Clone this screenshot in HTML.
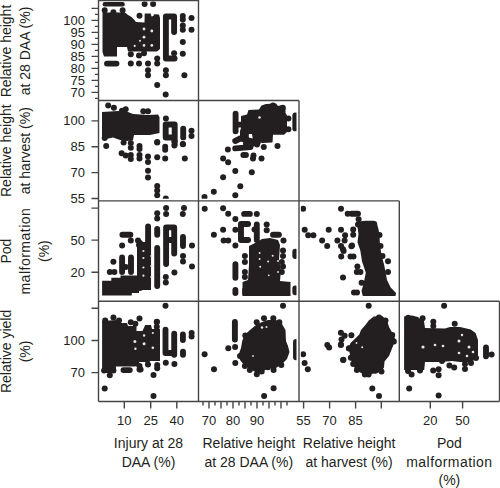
<!DOCTYPE html><html><head><meta charset="utf-8"><style>html,body{margin:0;padding:0;background:#fff;}svg{display:block}text{font-family:"Liberation Sans",sans-serif;fill:#231f20}</style></head><body>
<svg width="500" height="488" viewBox="0 0 500 488">
<defs>
<clipPath id="c11"><rect x="100.3" y="1.5" width="95.7" height="96.9"/></clipPath>
<clipPath id="c21"><rect x="100.3" y="101.5" width="95.7" height="97.3"/></clipPath>
<clipPath id="c22"><rect x="200.3" y="101.5" width="96.2" height="97.3"/></clipPath>
<clipPath id="c31"><rect x="100.3" y="201.9" width="95.7" height="97.3"/></clipPath>
<clipPath id="c32"><rect x="200.3" y="201.9" width="96.2" height="97.3"/></clipPath>
<clipPath id="c33"><rect x="300.8" y="201.9" width="96.0" height="97.3"/></clipPath>
<clipPath id="c41"><rect x="100.3" y="302.3" width="95.7" height="97.1"/></clipPath>
<clipPath id="c42"><rect x="200.3" y="302.3" width="96.2" height="97.1"/></clipPath>
<clipPath id="c43"><rect x="300.8" y="302.3" width="96.0" height="97.1"/></clipPath>
<clipPath id="c44"><rect x="401.1" y="302.3" width="95.9" height="97.1"/></clipPath>
</defs>
<g clip-path="url(#c11)" fill="#231f20">
<polygon points="102.5,12.5 125,12.5 128,15 131.5,17 134,19.5 136,22 144.5,22.5 144.7,13.5 150.7,13.5 151.5,16.5 153.4,16 154,14.2 159,14.5 160,18 160,49 157,51.5 128,51.5 127,47 117,47 117,56.4 104,56.4 102.5,52"/>
<path d="M104.8 4.2L122.6 4.2" stroke="#231f20" stroke-width="4.4" stroke-linecap="round" fill="none"/>
<path d="M165.9 16.5L165.9 58.5 174.6 58.5M165.9 16.5L174.1 16.5 174.1 32M107 63.6L116.5 63.6" stroke="#231f20" stroke-width="5.9" stroke-linecap="round" stroke-linejoin="round" fill="none"/>
<circle cx="144.6" cy="4.1" r="3"/>
<circle cx="153.1" cy="4.1" r="3"/>
<circle cx="104.7" cy="10.2" r="3"/>
<circle cx="113.4" cy="12.3" r="3"/>
<circle cx="122.6" cy="10.2" r="3"/>
<circle cx="139.5" cy="15.8" r="3"/>
<circle cx="174.1" cy="53.3" r="3"/>
<circle cx="182.8" cy="16" r="3"/>
<circle cx="182.8" cy="19.5" r="3"/>
<circle cx="182.8" cy="25.5" r="3"/>
<circle cx="182.8" cy="29.7" r="3"/>
<circle cx="191.5" cy="17.9" r="3"/>
<circle cx="191.5" cy="29.7" r="3"/>
<circle cx="182.8" cy="42" r="3"/>
<circle cx="182.8" cy="53.8" r="3"/>
<circle cx="184.4" cy="75.3" r="3"/>
<circle cx="157.2" cy="58.4" r="3"/>
<circle cx="157.2" cy="63.6" r="3"/>
<circle cx="148" cy="63.6" r="3"/>
<circle cx="148" cy="70.2" r="3"/>
<circle cx="148" cy="75.3" r="3"/>
<circle cx="130.8" cy="63.6" r="3"/>
<circle cx="139" cy="63.6" r="3"/>
<circle cx="165.9" cy="70.2" r="3"/>
<circle cx="165.9" cy="75.3" r="3"/>
<circle cx="157.2" cy="85" r="3"/>
<circle cx="165.7" cy="94.6" r="3"/>
<circle cx="130.8" cy="54.3" r="3"/>
<circle cx="139" cy="55.4" r="3"/>
<circle cx="144" cy="53.3" r="3"/>
<circle cx="151.8" cy="31" r="1.4" fill="#e6e6e6"/>
<circle cx="151.8" cy="45.4" r="1.4" fill="#e6e6e6"/>
<circle cx="144" cy="29" r="1.4" fill="#e6e6e6"/>
<circle cx="144" cy="37.2" r="1.4" fill="#e6e6e6"/>
<circle cx="144" cy="45.4" r="1.3" fill="#e6e6e6"/>
<circle cx="134.7" cy="45.9" r="1.1" fill="#e6e6e6"/>
<circle cx="140" cy="40.7" r="1" fill="#e6e6e6"/>
</g>
<g clip-path="url(#c21)" fill="#231f20">
<polygon points="102,112 118,111 128,112 133,114 148,115 158,114.5 159.5,117 159.5,133 150,135 134,135 133,140 127,141 120,140 113,137.5 106,139 102,137"/>
<path d="M165.7 124.5L165.7 137.5 174.7 137.5M165.7 124.5L174.7 124.5 174.7 144M183.2 128.8L183.2 137.4" stroke="#231f20" stroke-width="5.9" stroke-linecap="round" stroke-linejoin="round" fill="none"/>
<circle cx="108.2" cy="105.6" r="3"/>
<circle cx="113.9" cy="107.7" r="3"/>
<circle cx="122" cy="110.8" r="3"/>
<circle cx="125.7" cy="109.2" r="3"/>
<circle cx="143.3" cy="111.3" r="3"/>
<circle cx="148" cy="111.3" r="3"/>
<circle cx="104.7" cy="137.9" r="3"/>
<circle cx="123.6" cy="142.6" r="3"/>
<circle cx="130.8" cy="143.1" r="3"/>
<circle cx="130.8" cy="147.7" r="3"/>
<circle cx="106.2" cy="146.1" r="3"/>
<circle cx="139.5" cy="146.1" r="3"/>
<circle cx="139.5" cy="149" r="3"/>
<circle cx="121.6" cy="153.3" r="3"/>
<circle cx="125.7" cy="155.4" r="3"/>
<circle cx="130.8" cy="154.9" r="3"/>
<circle cx="130.8" cy="159" r="3"/>
<circle cx="139.5" cy="154.9" r="3"/>
<circle cx="139.5" cy="158.4" r="3"/>
<circle cx="148" cy="156.6" r="3"/>
<circle cx="148" cy="162.1" r="3"/>
<circle cx="148" cy="170.7" r="3"/>
<circle cx="148" cy="177.5" r="3"/>
<circle cx="157.2" cy="157.2" r="3"/>
<circle cx="157.2" cy="142.5" r="3"/>
<circle cx="165.2" cy="146.8" r="3"/>
<circle cx="165.2" cy="149.8" r="3"/>
<circle cx="165.2" cy="158.4" r="3"/>
<circle cx="174.4" cy="145.5" r="3"/>
<circle cx="174.4" cy="141.2" r="3"/>
<circle cx="183" cy="144.3" r="3"/>
<circle cx="184.8" cy="158.4" r="3"/>
<circle cx="157.2" cy="186" r="3"/>
<circle cx="157.2" cy="190.4" r="3"/>
<circle cx="157.2" cy="195.3" r="3"/>
<circle cx="165.8" cy="198.5" r="3"/>
<circle cx="165.9" cy="118.4" r="3"/>
<circle cx="182.8" cy="144" r="3"/>
<circle cx="191.5" cy="130.7" r="3"/>
<circle cx="191.5" cy="135.9" r="3"/>
<circle cx="157.2" cy="142" r="3"/>
</g>
<g clip-path="url(#c22)" fill="#231f20">
<polygon points="241,116 247,114.5 248.5,110 259,109.5 261.5,105.5 266,104 276,103.5 278,106 282,105 285.5,108 285.5,113 287,115.5 287,132 284,134.8 273,134.8 272.5,142.5 262,143 258,141 253,140.5 252,134 248.8,134 248.8,138.5 240,138.5 240,131 241,128"/>
<path d="M235.6 113.8L235.6 131.3M235.6 124.6L243.3 124.6M295.3 115.4L295.3 128.4M235.2 141L240.2 138.5 257.8 142.6M235.2 148.4L250.4 147.1" stroke="#231f20" stroke-width="5.9" stroke-linecap="round" stroke-linejoin="round" fill="none"/>
<circle cx="282.8" cy="107.7" r="3"/>
<circle cx="288.4" cy="118.4" r="3"/>
<circle cx="288.4" cy="129.2" r="3"/>
<circle cx="273" cy="105.6" r="3"/>
<circle cx="227.9" cy="149.6" r="3"/>
<circle cx="243.4" cy="154.9" r="3"/>
<circle cx="245.9" cy="154.9" r="3"/>
<circle cx="253.5" cy="155.5" r="3"/>
<circle cx="253" cy="158.5" r="3"/>
<circle cx="246" cy="143.5" r="3"/>
<circle cx="252" cy="144" r="3"/>
<circle cx="257" cy="144.5" r="3"/>
<circle cx="261.5" cy="158.6" r="3"/>
<circle cx="263.8" cy="147" r="3"/>
<circle cx="277.5" cy="146.1" r="3"/>
<circle cx="223.1" cy="158.4" r="3"/>
<circle cx="228.1" cy="162.3" r="3"/>
<circle cx="235.3" cy="170.9" r="3"/>
<circle cx="251.8" cy="172.3" r="3"/>
<circle cx="223.1" cy="177.3" r="3"/>
<circle cx="240.3" cy="186.2" r="3"/>
<circle cx="213.8" cy="191.7" r="3"/>
<circle cx="235.3" cy="195.3" r="3"/>
<circle cx="204.5" cy="197" r="3"/>
<circle cx="259.5" cy="117.5" r="1.3" fill="#e6e6e6"/>
</g>
<g clip-path="url(#c31)" fill="#231f20">
<polygon points="102.1,280.7 111.3,280.7 111.3,277.7 120.5,277.7 120.5,275.6 139,275.6 139,293 131.8,293 131.8,295.6 102.1,295.6"/>
<polygon points="137,242 151,242 151,290 137,290"/>
<path d="M122.4 234.8L130.4 234.8M148.1 226.5L148.1 286M140 243L140 288M122.1 257.5L122.1 272M131 257.5L131 272M157.2 229L157.2 234.8M157.2 247.9L157.2 286M166.1 227.4L166.1 264M166.1 227.4L174.2 227.4 174.2 253.6M166.1 240L174.2 240M183 237L183 246" stroke="#231f20" stroke-width="5.9" stroke-linecap="round" stroke-linejoin="round" fill="none"/>
<circle cx="130.8" cy="240.5" r="3"/>
<circle cx="138" cy="240.5" r="3"/>
<circle cx="139" cy="245" r="3"/>
<circle cx="122.1" cy="245.6" r="3"/>
<circle cx="113.4" cy="261.8" r="3"/>
<circle cx="125.7" cy="266.9" r="3"/>
<circle cx="109.8" cy="272" r="3"/>
<circle cx="114.4" cy="272" r="3"/>
<circle cx="157.2" cy="213.3" r="3"/>
<circle cx="157.2" cy="218.6" r="3"/>
<circle cx="166.1" cy="208.1" r="3"/>
<circle cx="166.1" cy="213.9" r="3"/>
<circle cx="165.8" cy="276.9" r="3"/>
<circle cx="165.8" cy="282.4" r="3"/>
<circle cx="174.4" cy="272.6" r="3"/>
<circle cx="184" cy="208.1" r="3"/>
<circle cx="182.8" cy="213.9" r="3"/>
<circle cx="183" cy="256" r="3"/>
<circle cx="183" cy="261.5" r="3"/>
<circle cx="192" cy="245.5" r="3"/>
<circle cx="192" cy="266.5" r="3"/>
<circle cx="151.5" cy="256" r="1.2" fill="#e6e6e6"/>
<circle cx="151.5" cy="266" r="1.2" fill="#e6e6e6"/>
<circle cx="151.5" cy="277" r="1.2" fill="#e6e6e6"/>
<circle cx="143.4" cy="251" r="1.1" fill="#e6e6e6"/>
<circle cx="143.4" cy="258" r="1.1" fill="#e6e6e6"/>
<circle cx="143.4" cy="267.5" r="1.1" fill="#e6e6e6"/>
<circle cx="143.4" cy="275.7" r="1.1" fill="#e6e6e6"/>
</g>
<g clip-path="url(#c32)" fill="#231f20">
<polygon points="249,246 255,243 262,239 270,238 278,240 280,245 279,260 281,270 280,281 290.5,282 290.5,296 242.5,296 242.5,282 248,280 249,265"/>
<path d="M248.1 224L241 224 241 240 248.1 240M244.1 213.9L249.9 213.9M256.8 224.4L256.8 240M273 234.8L278.9 234.8M235.4 264.3L235.4 277.7M235.4 289.9L235.4 293.1M295.3 251.6L295.3 256M295.3 288.5L295.3 292.3" stroke="#231f20" stroke-width="5.9" stroke-linecap="round" stroke-linejoin="round" fill="none"/>
<circle cx="204.7" cy="208.7" r="3"/>
<circle cx="223.1" cy="208.2" r="3"/>
<circle cx="228.2" cy="213.8" r="3"/>
<circle cx="235.4" cy="219" r="3"/>
<circle cx="223.1" cy="229.7" r="3"/>
<circle cx="213.9" cy="234.8" r="3"/>
<circle cx="235.4" cy="229.7" r="3"/>
<circle cx="223.6" cy="240.5" r="3"/>
<circle cx="228.2" cy="240.5" r="3"/>
<circle cx="235.4" cy="245.6" r="3"/>
<circle cx="256.8" cy="213.9" r="3"/>
<circle cx="254.5" cy="229.6" r="3"/>
<circle cx="266.7" cy="224.4" r="3"/>
<circle cx="266.7" cy="230.2" r="3"/>
<circle cx="283.5" cy="240.6" r="3"/>
<circle cx="244.9" cy="256" r="3"/>
<circle cx="244.9" cy="262.1" r="3"/>
<circle cx="244.9" cy="272" r="3"/>
<circle cx="244.9" cy="276.9" r="3"/>
<circle cx="245.1" cy="289.9" r="3"/>
<circle cx="245.1" cy="293.1" r="3"/>
<circle cx="283" cy="250.4" r="3"/>
<circle cx="283" cy="256" r="3"/>
<circle cx="281.8" cy="262" r="3"/>
<circle cx="283" cy="266.4" r="3"/>
<circle cx="281.8" cy="272" r="3"/>
<circle cx="259.6" cy="253" r="1" fill="#e6e6e6"/>
<circle cx="259.6" cy="259" r="1" fill="#e6e6e6"/>
<circle cx="268.1" cy="261.6" r="1" fill="#e6e6e6"/>
<circle cx="272.7" cy="255.7" r="1" fill="#e6e6e6"/>
<circle cx="278" cy="261" r="1" fill="#e6e6e6"/>
<circle cx="260.2" cy="266.8" r="1" fill="#e6e6e6"/>
<circle cx="278" cy="272" r="0.9" fill="#e6e6e6"/>
<circle cx="268.8" cy="275.3" r="0.9" fill="#e6e6e6"/>
</g>
<g clip-path="url(#c33)" fill="#231f20">
<polygon points="358,222 362,221 366.8,220.8 374.1,220.8 377,224 378.7,230 379.5,236 380,245 381.5,255 384.3,265.4 387,280 390.7,287.5 396,293 395.5,296 362.8,296 361.5,291 363.5,284 365.8,272.7 364,267.2 362.1,261.7 360.3,250.6 357.5,242.3 358.5,234 357.5,227"/>
<path d="M351.5 213.8L358 213.8" stroke="#231f20" stroke-width="5.9" stroke-linecap="round" stroke-linejoin="round" fill="none"/>
<circle cx="379.5" cy="234.9" r="3"/>
<circle cx="380.5" cy="246" r="3"/>
<circle cx="382.5" cy="256" r="3"/>
<circle cx="303.1" cy="208.7" r="3"/>
<circle cx="341" cy="208.7" r="3"/>
<circle cx="347.7" cy="213.8" r="3"/>
<circle cx="304.7" cy="229.7" r="3"/>
<circle cx="308.2" cy="235.3" r="3"/>
<circle cx="313.4" cy="235.3" r="3"/>
<circle cx="328.7" cy="229.7" r="3"/>
<circle cx="341" cy="229.7" r="3"/>
<circle cx="322.1" cy="240.5" r="3"/>
<circle cx="327.2" cy="246.1" r="3"/>
<circle cx="337.4" cy="240.5" r="3"/>
<circle cx="345.1" cy="235.3" r="3"/>
<circle cx="344.6" cy="240.5" r="3"/>
<circle cx="341" cy="246.1" r="3"/>
<circle cx="343" cy="249.2" r="3"/>
<circle cx="358.6" cy="219.2" r="3"/>
<circle cx="358" cy="224.6" r="3"/>
<circle cx="367" cy="224" r="3"/>
<circle cx="374.2" cy="224" r="3"/>
<circle cx="353.2" cy="229.4" r="3"/>
<circle cx="353.2" cy="234.8" r="3"/>
<circle cx="352" cy="245.6" r="3"/>
<circle cx="343.6" cy="251" r="3"/>
<circle cx="341.2" cy="256.4" r="3"/>
<circle cx="351.4" cy="246.2" r="3"/>
<circle cx="350.5" cy="256.4" r="3"/>
<circle cx="353.5" cy="256.4" r="3"/>
<circle cx="357.4" cy="266.6" r="3"/>
<circle cx="356.8" cy="272" r="3"/>
<circle cx="360.4" cy="272" r="3"/>
<circle cx="343" cy="277.4" r="3"/>
<circle cx="361.6" cy="282.8" r="3"/>
<circle cx="354" cy="292.4" r="3"/>
<circle cx="357" cy="292.4" r="3"/>
<circle cx="388" cy="261.2" r="3"/>
<circle cx="388" cy="272" r="3"/>
</g>
<g clip-path="url(#c41)" fill="#231f20">
<polygon points="102.1,321 117,320 118,323 127,323 128,326 136.5,326 136.5,331 142.5,331 145.2,325 151,325 152,329 160,329 160,361 150,361 148,365 145,362 137,362 135,366.5 116,366.5 115.4,373 102.1,373"/>
<path d="M165.5 329.7L165.5 353 174.2 353M174.2 333.7L174.2 354.8M156.8 335.5L156.8 358M148.1 328.5L148.1 358M182.9 334.5L182.9 340M183 351.7L183 354.7M123.5 370.1L129.8 370.1" stroke="#231f20" stroke-width="5.9" stroke-linecap="round" stroke-linejoin="round" fill="none"/>
<circle cx="139.5" cy="318.4" r="3"/>
<circle cx="165.5" cy="305.8" r="3"/>
<circle cx="105.2" cy="320.5" r="3"/>
<circle cx="113.4" cy="317.4" r="3"/>
<circle cx="119" cy="320.5" r="3"/>
<circle cx="130.8" cy="322.2" r="3"/>
<circle cx="135.4" cy="323.7" r="3"/>
<circle cx="156.9" cy="321.7" r="3"/>
<circle cx="156.8" cy="322" r="3"/>
<circle cx="156.8" cy="326.7" r="3"/>
<circle cx="191.6" cy="333" r="3"/>
<circle cx="191.6" cy="336.5" r="3"/>
<circle cx="104.1" cy="370.6" r="3"/>
<circle cx="109.8" cy="375.2" r="3"/>
<circle cx="113.4" cy="370.6" r="3"/>
<circle cx="139.5" cy="366" r="3"/>
<circle cx="139.5" cy="369.6" r="3"/>
<circle cx="136.4" cy="363.4" r="3"/>
<circle cx="104.7" cy="388.5" r="3"/>
<circle cx="148" cy="364.6" r="3"/>
<circle cx="157.2" cy="365" r="3"/>
<circle cx="157.2" cy="368.3" r="3"/>
<circle cx="165.8" cy="362.7" r="3"/>
<circle cx="174.4" cy="364" r="3"/>
<circle cx="153.5" cy="375" r="3"/>
<circle cx="140.6" cy="369.5" r="3"/>
<circle cx="153.5" cy="395.9" r="3"/>
<circle cx="134.9" cy="341.6" r="1.5" fill="#e6e6e6"/>
<circle cx="144.1" cy="343.7" r="1.5" fill="#e6e6e6"/>
<circle cx="152.8" cy="347.8" r="1.3" fill="#e6e6e6"/>
<circle cx="135.4" cy="348.8" r="1.2" fill="#e6e6e6"/>
<circle cx="144.1" cy="335.5" r="1.2" fill="#e6e6e6"/>
<circle cx="152.8" cy="333" r="1.1" fill="#e6e6e6"/>
</g>
<g clip-path="url(#c42)" fill="#231f20">
<polygon points="250,330 256,325 262,322 268,320 276,320 282,324 285.5,330 286,341 288,346 289.5,352 287,359 282,364 276,368 270,368 263,371 257,373 250,369 245,366 240,360 238.5,355 241,348 242.2,341 244.5,335"/>
<path d="M234.9 322L234.9 339.5M296 342L296 357.3" stroke="#231f20" stroke-width="5.9" stroke-linecap="round" stroke-linejoin="round" fill="none"/>
<circle cx="283" cy="305.7" r="3"/>
<circle cx="228.3" cy="348.2" r="3"/>
<circle cx="204.6" cy="354.3" r="3"/>
<circle cx="214" cy="369.3" r="3"/>
<circle cx="235.3" cy="363.1" r="3"/>
<circle cx="235.1" cy="347" r="3"/>
<circle cx="240" cy="356.1" r="3"/>
<circle cx="244.9" cy="365.9" r="3"/>
<circle cx="249.8" cy="370.1" r="3"/>
<circle cx="256.8" cy="374.3" r="3"/>
<circle cx="261.7" cy="371.5" r="3"/>
<circle cx="273.6" cy="370.1" r="3"/>
<circle cx="268" cy="367.3" r="3"/>
<circle cx="273.6" cy="388.3" r="3"/>
<circle cx="264.1" cy="396" r="3"/>
<circle cx="256.7" cy="322.3" r="3"/>
<circle cx="264" cy="318.3" r="3"/>
<circle cx="273.3" cy="318.3" r="3"/>
<circle cx="279.3" cy="322.3" r="3"/>
<circle cx="245.3" cy="335.5" r="3"/>
<circle cx="281.3" cy="365" r="3"/>
<circle cx="262" cy="327.5" r="1.2" fill="#e6e6e6"/>
<circle cx="266.5" cy="327" r="1" fill="#e6e6e6"/>
<circle cx="253" cy="356" r="0.9" fill="#e6e6e6"/>
</g>
<g clip-path="url(#c43)" fill="#231f20">
<polygon points="373.7,316.5 382.3,316 387.3,321 389,327 393.8,335.5 395.5,340 392.5,347.3 389,355.9 384.5,361.6 384,367.4 381,371.7 373.7,373.5 366.5,375.5 362,373.5 356.5,370.3 352.2,364.5 350.5,357.3 348.6,348 350.5,343 355,338.7 359.3,334.4 361,330 366,324.3 368.7,320.5"/>
<circle cx="368.7" cy="305.7" r="3"/>
<circle cx="303.1" cy="354.3" r="3"/>
<circle cx="304.6" cy="362.9" r="3"/>
<circle cx="307.8" cy="369.3" r="3"/>
<circle cx="327.3" cy="345.1" r="3"/>
<circle cx="329.1" cy="347.5" r="3"/>
<circle cx="343.1" cy="360" r="3"/>
<circle cx="340.9" cy="344.9" r="3"/>
<circle cx="348.9" cy="348.6" r="3"/>
<circle cx="350.8" cy="357.8" r="3"/>
<circle cx="343.4" cy="359.7" r="3"/>
<circle cx="353.2" cy="364" r="3"/>
<circle cx="356.9" cy="370.1" r="3"/>
<circle cx="361.8" cy="365.8" r="3"/>
<circle cx="364.9" cy="374.4" r="3"/>
<circle cx="368.6" cy="374.4" r="3"/>
<circle cx="381.5" cy="371.4" r="3"/>
<circle cx="375.4" cy="370.8" r="3"/>
<circle cx="372.3" cy="388.6" r="3"/>
<circle cx="379" cy="396" r="3"/>
<circle cx="340.9" cy="332.8" r="3"/>
<circle cx="344.6" cy="335.8" r="3"/>
<circle cx="351.4" cy="335.2" r="3"/>
<circle cx="341.5" cy="339.5" r="3"/>
<circle cx="340.9" cy="344.4" r="3"/>
<circle cx="349.2" cy="348.2" r="3"/>
<circle cx="379" cy="317.4" r="3"/>
<circle cx="385.5" cy="320.5" r="3"/>
<circle cx="392.3" cy="335" r="3"/>
<circle cx="394" cy="341.5" r="3"/>
<circle cx="362.2" cy="347.3" r="1" fill="#e6e6e6"/>
<circle cx="356.5" cy="343" r="0.9" fill="#e6e6e6"/>
</g>
<g clip-path="url(#c44)" fill="#231f20">
<polygon points="404.1,316.5 412,315.5 418,317 421,320 424,321 425,328 445,328.5 450,327 460,327 470.7,329.5 475.6,333 478,340 478,358 470.7,362 460,362 452,361 440,362 425,362 424.2,370 415,370 404.1,370"/>
<path d="M486 347.5L486 356.3" stroke="#231f20" stroke-width="5.9" stroke-linecap="round" stroke-linejoin="round" fill="none"/>
<circle cx="444.1" cy="305.7" r="3"/>
<circle cx="454.7" cy="323.7" r="3"/>
<circle cx="408.2" cy="317.7" r="3"/>
<circle cx="422.6" cy="318.2" r="3"/>
<circle cx="433.3" cy="321.8" r="3"/>
<circle cx="433.3" cy="326" r="3"/>
<circle cx="408" cy="371" r="3"/>
<circle cx="411.6" cy="374.6" r="3"/>
<circle cx="420" cy="370.4" r="3"/>
<circle cx="433.2" cy="370.4" r="3"/>
<circle cx="438.6" cy="369.2" r="3"/>
<circle cx="438.6" cy="375.2" r="3"/>
<circle cx="454.2" cy="367.4" r="3"/>
<circle cx="449.4" cy="365.6" r="3"/>
<circle cx="409.2" cy="388.4" r="3"/>
<circle cx="438.6" cy="395.6" r="3"/>
<circle cx="491.6" cy="354.4" r="3"/>
<circle cx="442" cy="361" r="3"/>
<circle cx="465" cy="364" r="3"/>
<circle cx="465" cy="369" r="3"/>
<circle cx="471" cy="363" r="3"/>
<circle cx="476" cy="358" r="3"/>
<circle cx="423" cy="347" r="1.6" fill="#e6e6e6"/>
<circle cx="435" cy="345" r="1.3" fill="#e6e6e6"/>
<circle cx="443" cy="346" r="1.3" fill="#e6e6e6"/>
<circle cx="459" cy="341" r="1.5" fill="#e6e6e6"/>
<circle cx="469" cy="347" r="1.5" fill="#e6e6e6"/>
<circle cx="459" cy="353" r="1.3" fill="#e6e6e6"/>
<circle cx="467" cy="356" r="1.3" fill="#e6e6e6"/>
<circle cx="473" cy="352" r="1.3" fill="#e6e6e6"/>
<circle cx="462" cy="335" r="1.2" fill="#e6e6e6"/>
</g>
<path d="M98.5 0L98.5 401.5M198.5 0L198.5 401.5M299 100.5L299 401.5M399.3 200.9L399.3 401.5M499.5 301.3L499.5 401.5M98.5 0.5L198.5 0.5M98.5 100.5L299 100.5M98.5 200.9L399.3 200.9M98.5 301.3L499.5 301.3M98.5 401.5L499.5 401.5M91.5 8.4L98.5 8.4M95 14.4L98.5 14.4M91.5 20.4L98.5 20.4M95 26.4L98.5 26.4M91.5 32.4L98.5 32.4M95 38.4L98.5 38.4M91.5 44.4L98.5 44.4M95 50.4L98.5 50.4M91.5 56.4L98.5 56.4M95 62.4L98.5 62.4M91.5 68.4L98.5 68.4M95 74.4L98.5 74.4M91.5 80.4L98.5 80.4M95 86.4L98.5 86.4M91.5 92.4L98.5 92.4M95 98.4L98.5 98.4M91.5 120.9L98.5 120.9M91.5 146.8L98.5 146.8M91.5 172.6L98.5 172.6M91.5 198.5L98.5 198.5M91.5 208.1L98.5 208.1M91.5 240.1L98.5 240.1M91.5 272.3L98.5 272.3M91.5 308.3L98.5 308.3M91.5 340.5L98.5 340.5M91.5 372.6L98.5 372.6M124.3 401.5L124.3 408.5M150.7 401.5L150.7 408.5M176.8 401.5L176.8 408.5M203 401.5L203 405.5M209 401.5L209 408.5M215 401.5L215 405.5M221 401.5L221 408.5M227 401.5L227 405.5M233 401.5L233 408.5M239 401.5L239 405.5M245 401.5L245 408.5M251 401.5L251 405.5M257 401.5L257 408.5M263 401.5L263 405.5M269 401.5L269 408.5M275 401.5L275 405.5M281 401.5L281 408.5M287 401.5L287 405.5M303.6 401.5L303.6 408.5M329.6 401.5L329.6 408.5M355.6 401.5L355.6 408.5M381.3 401.5L381.3 408.5M430.3 401.5L430.3 408.5M462.6 401.5L462.6 408.5" stroke="#454545" stroke-width="1.4" fill="none"/>
<text x="85" y="24.8" font-size="13" text-anchor="end">100</text>
<text x="85" y="36.8" font-size="13" text-anchor="end">95</text>
<text x="85" y="48.8" font-size="13" text-anchor="end">90</text>
<text x="85" y="60.8" font-size="13" text-anchor="end">85</text>
<text x="85" y="72.8" font-size="13" text-anchor="end">80</text>
<text x="85" y="84.8" font-size="13" text-anchor="end">75</text>
<text x="85" y="96.8" font-size="13" text-anchor="end">70</text>
<text x="85" y="125.3" font-size="13" text-anchor="end">100</text>
<text x="85" y="151.2" font-size="13" text-anchor="end">85</text>
<text x="85" y="177" font-size="13" text-anchor="end">70</text>
<text x="85" y="202.9" font-size="13" text-anchor="end">55</text>
<text x="85" y="244.5" font-size="13" text-anchor="end">50</text>
<text x="85" y="276.7" font-size="13" text-anchor="end">20</text>
<text x="85" y="344.9" font-size="13" text-anchor="end">100</text>
<text x="85" y="377" font-size="13" text-anchor="end">70</text>
<text x="124.3" y="424.8" font-size="13" text-anchor="middle">10</text>
<text x="150.7" y="424.8" font-size="13" text-anchor="middle">25</text>
<text x="176.8" y="424.8" font-size="13" text-anchor="middle">40</text>
<text x="209" y="424.8" font-size="13" text-anchor="middle">70</text>
<text x="233" y="424.8" font-size="13" text-anchor="middle">80</text>
<text x="257" y="424.8" font-size="13" text-anchor="middle">90</text>
<text x="303.6" y="424.8" font-size="13" text-anchor="middle">55</text>
<text x="329.6" y="424.8" font-size="13" text-anchor="middle">70</text>
<text x="355.6" y="424.8" font-size="13" text-anchor="middle">85</text>
<text x="430.3" y="424.8" font-size="13" text-anchor="middle">20</text>
<text x="462.6" y="424.8" font-size="13" text-anchor="middle">50</text>
<text x="148.5" y="447.6" font-size="14" text-anchor="middle">Injury at 28</text>
<text x="148.5" y="466.5" font-size="14" text-anchor="middle">DAA (%)</text>
<text x="248.8" y="447.6" font-size="14" text-anchor="middle">Relative height</text>
<text x="248.8" y="466.5" font-size="14" text-anchor="middle">at 28 DAA (%)</text>
<text x="349.1" y="447.6" font-size="14" text-anchor="middle">Relative height</text>
<text x="349.1" y="466.5" font-size="14" text-anchor="middle">at harvest (%)</text>
<text x="449.4" y="447.6" font-size="14" text-anchor="middle">Pod</text>
<text x="449.4" y="466.5" font-size="14" text-anchor="middle" letter-spacing="0.45">malformation</text>
<text x="449.4" y="485.4" font-size="14" text-anchor="middle">(%)</text>
<text transform="translate(11.3 51) rotate(-90)" font-size="14" text-anchor="middle">Relative height</text>
<text transform="translate(29.9 51) rotate(-90)" font-size="14" text-anchor="middle">at 28 DAA (%)</text>
<text transform="translate(11.3 150.7) rotate(-90)" font-size="14" text-anchor="middle">Relative height</text>
<text transform="translate(29.9 150.7) rotate(-90)" font-size="14" text-anchor="middle">at harvest (%)</text>
<text transform="translate(11.3 251.1) rotate(-90)" font-size="14" text-anchor="middle">Pod</text>
<text transform="translate(29.9 251.1) rotate(-90)" font-size="14" text-anchor="middle" letter-spacing="0.5">malformation</text>
<text transform="translate(48.5 251.1) rotate(-90)" font-size="14" text-anchor="middle">(%)</text>
<text transform="translate(11.3 351.4) rotate(-90)" font-size="14" text-anchor="middle">Relative yield</text>
<text transform="translate(29.9 351.4) rotate(-90)" font-size="14" text-anchor="middle">(%)</text>
</svg></body></html>
